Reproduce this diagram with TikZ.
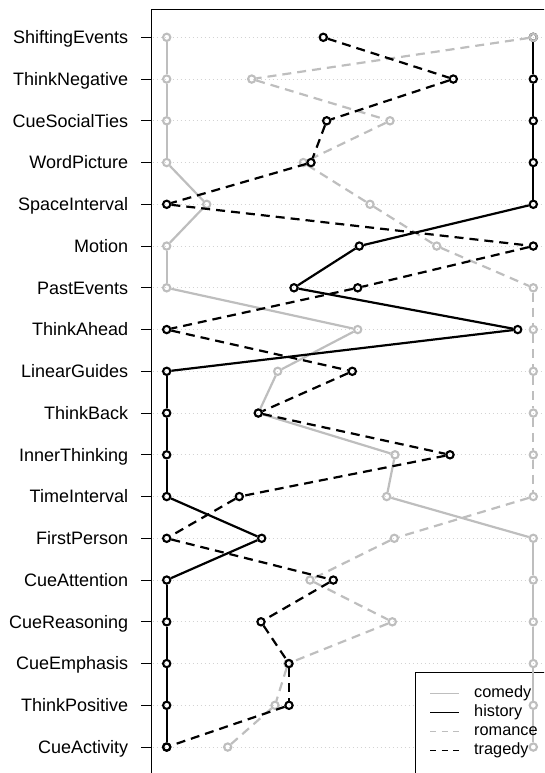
\documentclass[tikz,border=0pt]{standalone}
\usepackage{fontspec}
\setmainfont{Liberation Sans}
\definecolor{rgray}{RGB}{190,190,190}
\definecolor{rlight}{RGB}{211,211,211}
\usetikzlibrary{positioning}

\begin{document}
\begin{tikzpicture}[x=1pt,y=-1pt,
  pt/.style={circle,draw,line width=2.1pt,minimum size=7.3pt,inner sep=0pt},
  sline/.style={line width=2.2pt},
  dline/.style={line width=2.2pt,dash pattern=on 9pt off 6pt},
  legdash/.style={dash pattern=on 6pt off 5.7pt},
  gridline/.style={rlight,line width=0.8pt,dash pattern=on 1pt off 3pt},
  lab/.style={anchor=base east,inner sep=0pt,font=\fontsize{18}{20}\selectfont},
  leg/.style={anchor=base west,inner sep=0pt,font=\fontsize{16.3}{18}\selectfont}]
  \useasboundingbox (0,0) rectangle (544,773);
  \clip (0,0) rectangle (544,773);
  % frame, grid and row labels
  \draw[line width=1pt] (151.7,9.3) rectangle (600,820);
  \foreach \lab [count=\i] in {ShiftingEvents,ThinkNegative,CueSocialTies,WordPicture,
      SpaceInterval,Motion,PastEvents,ThinkAhead,LinearGuides,ThinkBack,InnerThinking,
      TimeInterval,FirstPerson,CueAttention,CueReasoning,CueEmphasis,ThinkPositive,CueActivity}{
    \pgfmathsetmacro\yy{37.3+(\i-1)*41.75}
    \draw[gridline] (152.5,\yy) -- (600,\yy);
    \draw[line width=1pt] (141,\yy) -- (151.7,\yy);
    \node[lab] (l\i) at (128.3,\yy+6.3) {\lab};
  }
  % legend box
  \draw[line width=1pt,fill=white] (415.7,672.7) rectangle (600,820);
  % comedy
  \foreach \xv [count=\i] in {166.7,166.7,166.7,166.7,206.7,166.7,166.7,357.7,277.7,
      258.3,395,386.7,533.3,533.3,533.3,533.3,533.3,533.3}
    \node[pt,rgray] (c\i) at (\xv,{37.3+(\i-1)*41.75}) {};
  \foreach \i [evaluate=\i as \j using int(\i+1)] in {1,...,17}
    \draw[sline,rgray] (c\i) -- (c\j);
  % history
  \foreach \xv [count=\i] in {533.3,533.3,533.3,533.3,533.3,359.3,294,517.7,166.7,
      166.7,166.7,166.7,261.7,166.7,166.7,166.7,166.7,166.7}
    \node[pt,black] (h\i) at (\xv,{37.3+(\i-1)*41.75}) {};
  \foreach \i [evaluate=\i as \j using int(\i+1)] in {1,...,17}
    \draw[sline,black] (h\i) -- (h\j);
  % romance
  \foreach \xv [count=\i] in {533.3,251.7,390,303.3,370,436.7,533.3,533.3,533.3,
      533.3,533.3,533.3,394.3,310,392.3,288,275,227.7}
    \node[pt,rgray] (r\i) at (\xv,{37.3+(\i-1)*41.75}) {};
  \foreach \i [evaluate=\i as \j using int(\i+1)] in {1,...,17}
    \draw[dline,rgray] (r\i) -- (r\j);
  % tragedy
  \foreach \xv [count=\i] in {323.3,453.3,326.7,311,166.7,533.3,357.7,166.7,352.3,
      258.3,450,239.3,166.7,333.3,261,289,289,166.7}
    \node[pt,black] (t\i) at (\xv,{37.3+(\i-1)*41.75}) {};
  \foreach \i [evaluate=\i as \j using int(\i+1)] in {1,...,17}
    \draw[dline,black] (t\i) -- (t\j);
  % legend entries
  \foreach \name/\col/\sty [count=\i] in {comedy/rgray/solid,history/black/solid,
      romance/rgray/legdash,tragedy/black/legdash}{
    \pgfmathsetmacro\ly{693.3+(\i-1)*18.9}
    \coordinate (ka\i) at (430,\ly);
    \coordinate (kb\i) at (459.3,\ly);
    \draw[\col,line width=1pt,\sty] (ka\i) -- (kb\i);
    \node[leg] (k\i) at (474,\ly+4.6) {\name};
  }
\end{tikzpicture}
\end{document}
